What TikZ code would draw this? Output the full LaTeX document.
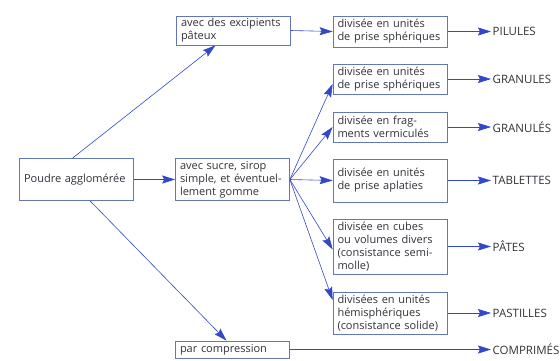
\documentclass[tikz,border=0pt]{standalone}
\usepackage{fontspec}
\setmainfont{Open Sans}
\usepackage{tikz}
\usetikzlibrary{arrows.meta}
\definecolor{lineblue}{RGB}{50,72,200}
\definecolor{boxblue}{RGB}{100,118,182}
\definecolor{textgray}{RGB}{50,50,58}
\pgfdeclarelayer{edgelayer}
\pgfdeclarelayer{nodelayer}
\pgfsetlayers{edgelayer,nodelayer,main}
\tikzstyle{stage}=[rectangle,draw=boxblue,fill=white,line width=0.7,text=textgray,font=\fontsize{11}{13}\selectfont,align=left,text width=105pt,inner xsep=4.5pt,inner ysep=0pt]
\tikzstyle{product}=[anchor=west,inner sep=1.5pt,text=textgray,font=\fontsize{11.5}{13}\selectfont]
\tikzstyle{flow}=[->,>={Stealth[length=13pt,width=8pt,inset=2pt]},draw=lineblue,line width=0.6]

\begin{document}
\begin{tikzpicture}[x=1pt,y=-1pt]
	\useasboundingbox (0,0) rectangle (560,360);
	\begin{pgfonlayer}{nodelayer}
		\node [style=stage,minimum height=42pt] (poudre) at (76.5, 179.5) {Poudre agglomérée};
		\node [style=stage,minimum height=29pt] (pateux) at (233.5, 30.5) {avec des excipients\\pâteux};
		\node [style=stage,minimum height=42pt] (sucre) at (232.5, 179.5) {avec sucre, sirop\\simple, et éventuel-\\lement gomme};
		\node [style=stage,minimum height=17pt] (compr) at (232.5, 349.5) {par compression};

		\node [style=stage,minimum height=31pt] (d1) at (390, 31.5) {divisée en unités\\de prise sphériques};
		\node [style=stage,minimum height=30pt] (d2) at (390, 79) {divisée en unités\\de prise sphériques};
		\node [style=stage,minimum height=30pt] (d3) at (390, 127) {divisée en frag-\\ments vermiculés};
		\node [style=stage,minimum height=43pt] (d4) at (390, 180.5) {divisée en unités\\de prise aplaties};
		\node [style=stage,minimum height=55pt] (d5) at (390, 246.5) {divisée en cubes\\ou volumes divers\\(consistance semi-\\molle)};
		\node [style=stage,minimum height=42pt] (d6) at (390, 313) {divisées en unités\\hémisphériques\\(consistance solide)};

		\node [style=product] (pilules) at (491, 31.5) {PILULES};
		\node [style=product] (granules) at (491, 79) {GRANULES};
		\node [style=product] (granulesv) at (491, 127) {GRANULÉS};
		\node [style=product] (tablettes) at (491, 180.5) {TABLETTES};
		\node [style=product] (pates) at (491, 246.5) {PÂTES};
		\node [style=product] (pastilles) at (491, 313) {PASTILLES};
		\node [style=product] (comprimes) at (491, 349.5) {COMPRIMÉS};
	\end{pgfonlayer}
	\begin{pgfonlayer}{edgelayer}
		\draw [style=flow] ([xshift=-4pt]poudre.north) to ([xshift=-18pt]pateux.south);
		\draw [style=flow] (poudre.east) to (sucre.west);
		\draw [style=flow] ([xshift=13.5pt]poudre.south) to ([xshift=-6pt]compr.north);
		\draw [style=flow] (pateux.east) to (d1.west);
		\draw [style=flow] (sucre.east) to ([yshift=-5pt]d2.west);
		\draw [style=flow] (sucre.east) to (d3.west);
		\draw [style=flow] (sucre.east) to (d4.west);
		\draw [style=flow] (sucre.east) to ([yshift=-3pt]d5.west);
		\draw [style=flow] (sucre.east) to ([yshift=13pt]d6.west);
		\draw [style=flow] (d1.east) to (pilules.west);
		\draw [style=flow] (d2.east) to (granules.west);
		\draw [style=flow] (d3.east) to (granulesv.west);
		\draw [style=flow] (d4.east) to (tablettes.west);
		\draw [style=flow] (d5.east) to (pates.west);
		\draw [style=flow] (d6.east) to (pastilles.west);
		\draw [style=flow] (compr.east) to (comprimes.west);
	\end{pgfonlayer}
\end{tikzpicture}
\end{document}
